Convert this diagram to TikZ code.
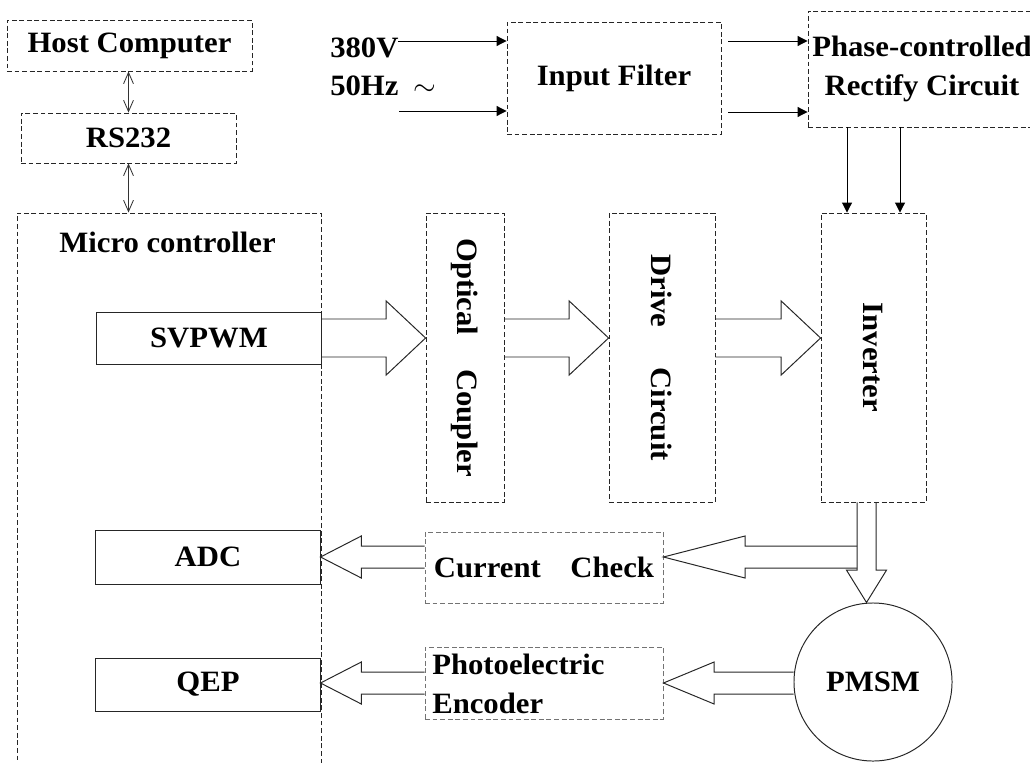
\documentclass[tikz,border=0pt]{standalone}
\usepackage{fontspec}
\setmainfont{Liberation Serif}[FakeStretch=1.04]
\usetikzlibrary{arrows.meta,calc}

\tikzset{
  block/.style={draw=black!85, dash pattern=on 3.5pt off 1.9pt, line width=0.6pt,
    inner sep=0pt, align=center, font=\bfseries\fontsize{21}{28}\selectfont},
  pale/.style={block, draw=black!55},
  solidblock/.style={draw=black!85, line width=0.7pt, inner sep=0pt,
    font=\bfseries\fontsize{21}{28}\selectfont},
  lbl/.style={inner sep=0pt, font=\bfseries\fontsize{21}{28}\selectfont},
  feed/.style={line width=0.7pt, -{Triangle[length=7pt,width=7pt]}},
  link/.style={draw=black!80, line width=0.6pt,
    {Straight Barb[length=8pt,width=7pt]}-{Straight Barb[length=8pt,width=7pt]}},
  fat/.style={draw=black!85, line width=0.7pt},
}

% hollow arrows: start, tip, shaft half width, head half width, head length
\newcommand{\fatarrowh}[5]{%
  \draw[fat] let \p1=#1, \p2=#2, \n2={-sign((\x2)-(\x1))*#5} in
    ($(\x1,\y2)+(0,#3)$) -- ($(\x2,\y2)+(\n2,#3)$) -- ($(\x2,\y2)+(\n2,#4)$)
    -- (\x2,\y2) -- ($(\x2,\y2)+(\n2,-#4)$) -- ($(\x2,\y2)+(\n2,-#3)$)
    -- ($(\x1,\y2)+(0,-#3)$);}
\newcommand{\fatarrowv}[5]{%
  \draw[fat] let \p1=#1, \p2=#2, \n2={-sign((\y2)-(\y1))*#5} in
    ($(\x2,\y1)+(#3,0)$) -- ($(\x2,\y2)+(#3,\n2)$) -- ($(\x2,\y2)+(#4,\n2)$)
    -- (\x2,\y2) -- ($(\x2,\y2)+(-#4,\n2)$) -- ($(\x2,\y2)+(-#3,\n2)$)
    -- ($(\x2,\y1)+(-#3,0)$);}

\begin{document}
\begin{tikzpicture}[x=0.025cm, y=-0.025cm]
    \useasboundingbox (0,0) rectangle (1030,762);
    \clip (0,0) rectangle (1030,762);

    % Host and controller
    \node[block, minimum width=6.125cm, minimum height=1.275cm] (host) at (129.5,45.5) {Host Computer};
    \node[block, minimum width=5.375cm, minimum height=1.25cm] (rs) at (128.5,138) {RS232};
    \node[block, minimum width=7.6cm, minimum height=14.7cm] (mcu) at (169,507) {};
    \node[lbl] (mculbl) at (167.5,242) {Micro controller};
    \node[solidblock, minimum width=5.6cm, minimum height=1.3cm] (svpwm) at (209,338) {SVPWM};
    \node[solidblock, minimum width=5.6cm, minimum height=1.35cm] (adc) at (208,557) {ADC};
    \node[solidblock, minimum width=5.6cm, minimum height=1.325cm] (qep) at (208,684.5) {QEP};

    \draw[link] (rs.north |- host.south) -- (rs.north);
    \draw[link] (rs.south) -- (rs.south |- mcu.north);

    % Power stage
    \node[lbl, anchor=west] (volt) at (330,48) {380V};
    \node[lbl, anchor=west] (freq) at (330,86) {50Hz~~$\sim$};
    \node[block, minimum width=5.35cm, minimum height=2.8cm] (filter) at (614,78) {Input Filter};
    \node[block, minimum width=5.7cm, minimum height=2.9cm] (rect) at (922,69) {Phase-controlled\\Rectify Circuit};

    \coordinate (in1) at (398,41);
    \coordinate (in2) at (399,111);
    \coordinate (f1) at (728,41);
    \coordinate (f2) at (728,112);
    \coordinate (d1) at (847,0);
    \coordinate (d2) at (900,0);
    \draw[feed] (in1) -- (in1 -| filter.west);
    \draw[feed] (in2) -- (in2 -| filter.west);
    \draw[feed] (f1) -- (f1 -| rect.west);
    \draw[feed] (f2) -- (f2 -| rect.west);

    % Drive chain
    \node[block, minimum width=1.95cm, minimum height=7.225cm] (optic) at (465,357.5) {};
    \node[block, minimum width=2.65cm, minimum height=7.225cm] (drive) at (662,357.5) {};
    \node[block, minimum width=2.625cm, minimum height=7.225cm] (inv) at (873.5,357.5) {};
    \node[lbl, rotate=-90] (opticlbl) at (optic) {Optical\hspace{1.15em}Coupler};
    \node[lbl, rotate=-90] (drivelbl) at (drive) {Drive\hspace{1.35em}Circuit};
    \node[lbl, rotate=-90] (invlbl) at (inv) {Inverter};

    \draw[feed] (d1 |- rect.south) -- (d1 |- inv.north);
    \draw[feed] (d2 |- rect.south) -- (d2 |- inv.north);

    \fatarrowh{(svpwm.east)}{(optic.west |- svpwm.east)}{19}{37}{28}
    \fatarrowh{(optic.east |- svpwm.east)}{(drive.west |- svpwm.east)}{19}{37}{28}
    \fatarrowh{(drive.east |- svpwm.east)}{(inv.west |- svpwm.east)}{19}{37}{28}

    % Feedback
    \node[pale, minimum width=5.95cm, minimum height=1.775cm] (curr) at (544,567.5) {Current\hspace{1em}Check};
    \node[pale, minimum width=5.95cm, minimum height=1.8cm] (photo) at (544,683) {};
    \node[lbl, anchor=west, align=left] (photolbl) at (432,684) {Photoelectric\\Encoder};
    \node[draw=black!85, line width=0.7pt, circle, minimum size=3.95cm, inner sep=0pt,
      font=\bfseries\fontsize{21}{28}\selectfont] (pmsm) at (873,682) {PMSM};

    \coordinate (tap) at (866.5,0);
    \coordinate (tapl) at (857,557);
    \fatarrowv{(tap |- inv.south)}{(tap |- pmsm.north)}{9.5}{20}{23}
    \fatarrowh{(tapl)}{(curr.east |- tapl)}{11}{21}{58}
    \fatarrowh{(curr.west |- adc.east)}{(adc.east)}{11}{21}{29}
    \fatarrowh{(photo.west)}{(qep.east |- photo.west)}{11}{21}{29}
    \fatarrowh{(pmsm.west)}{(photo.east)}{11}{21}{36}

\end{tikzpicture}
\end{document}
